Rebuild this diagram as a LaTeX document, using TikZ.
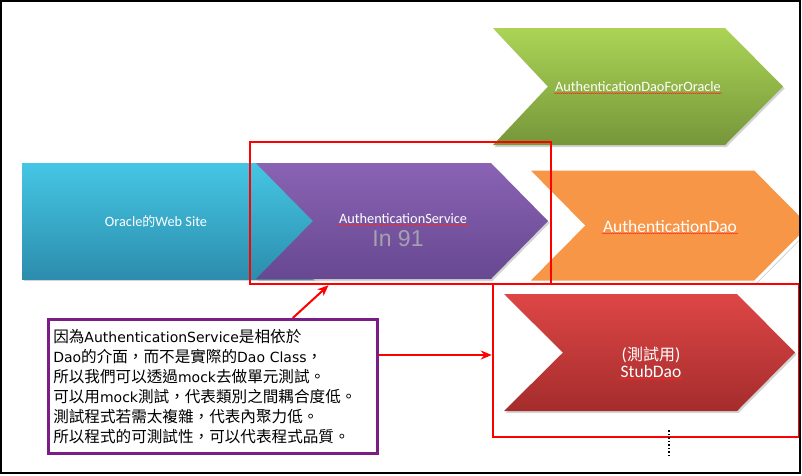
\documentclass[tikz,border=0pt]{standalone}
\usepackage{fontspec}
\setmainfont{Carlito}
\newfontfamily\cjkfont{Noto Sans CJK TC}
\newfontfamily\arialfont{Liberation Sans}
\newfontfamily\memofont{DejaVu Sans}
\newcommand{\zh}[1]{{\cjkfont\fontsize{15.6}{20}\selectfont #1}}
\usetikzlibrary{positioning, calc, arrows.meta, shadows, decorations.pathmorphing}

\definecolor{webtop}{HTML}{45C6E4}
\definecolor{webbot}{HTML}{2C8DAD}
\definecolor{svctop}{HTML}{8A63B4}
\definecolor{svcbot}{HTML}{674891}
\definecolor{daoorange}{HTML}{F79646}
\definecolor{oratop}{HTML}{ABD455}
\definecolor{orabot}{HTML}{76963A}
\definecolor{stubtop}{HTML}{DE4646}
\definecolor{stubbot}{HTML}{A52C2C}
\definecolor{notepurple}{HTML}{7A1E86}
\definecolor{stampgray}{HTML}{A4A2AE}

\begin{document}
\begin{tikzpicture}[
    x=1pt, y=-1pt,
    shape3d/.style={drop shadow={opacity=0.35, shadow xshift=1.5pt, shadow yshift=-2pt}},
    chevlabel/.style={text=white, font=\fontsize{14.3}{16}\selectfont, inner sep=1pt, align=center},
    biglabel/.style={text=white, font=\fontsize{17.5}{20}\selectfont, inner sep=1pt, align=center},
    spellmark/.style={draw=red!85, line width=0.45pt, decorate, decoration={snake, amplitude=0.45pt, segment length=2pt}},
    hilite/.style={draw=red, line width=2.5pt, rectangle, inner sep=0pt},
    redarrow/.style={draw=red, line width=2pt, -{Stealth[length=11pt, width=9pt]}},
    note/.style={draw=notepurple, line width=2.5pt, fill=white, rectangle, align=left,
        font=\memofont\fontsize{14}{20}\selectfont, inner xsep=5pt,
        drop shadow={opacity=0.45, shadow xshift=2pt, shadow yshift=-2pt}}
]
    \useasboundingbox (0,0) rectangle (802,475);

    % ================= CHEVRONS =================
    \begin{scope}
    \clip (0,0) rectangle (800,473);

    % Oracle web site (plain block)
    \path[shape3d, top color=webtop, bottom color=webbot] (22,163) rectangle (313,279);

    % AuthenticationService
    \path[shape3d, top color=svctop, bottom color=svcbot]
        (256,163) -- (491,163) -- (548,221) -- (491,279) -- (256,279) -- (313,221) -- cycle;

    % AuthenticationDao
    \path[shape3d, fill=daoorange, draw=white, line width=3pt, line join=miter]
        (527,169) -- (755,169) -- (811,225.5) -- (755,282) -- (527,282) -- (583,225.5) -- cycle;

    % AuthenticationDaoForOracle
    \path[shape3d, top color=oratop, bottom color=orabot]
        (493,28) -- (725,28) -- (783,86.5) -- (725,145) -- (493,145) -- (548,86.5) -- cycle;

    % StubDao
    \path[shape3d, top color=stubtop, bottom color=stubbot]
        (504,294) -- (737,294) -- (795,352.5) -- (737,411) -- (504,411) -- (563,352.5) -- cycle;
    \end{scope}

    % ================= LABELS =================
    \node[chevlabel] (weblbl) at (156,221) {Oracle{\cjkfont\fontsize{13}{16}\selectfont 的}Web Site};
    \node[chevlabel] (svclbl) at (403,219) {AuthenticationService};
    \node[text=stampgray, font=\arialfont\fontsize{23}{26}\selectfont, inner sep=1pt] (in91) at (398,239) {In 91};
    \node[biglabel] (daolbl) at (670,226) {AuthenticationDao};
    \node[chevlabel] (oralbl) at (638,87) {AuthenticationDaoForOracle};
    \node[biglabel] (stubtag) at (651,355) {({\cjkfont\fontsize{16}{20}\selectfont 測試用})};
    \node[biglabel, below=0pt of stubtag] (stublbl) {StubDao};

    \draw[spellmark] (svclbl.south west) -- (svclbl.south east);
    \draw[spellmark] (daolbl.south west) -- (daolbl.south east);
    \draw[spellmark] (oralbl.south west) -- (oralbl.south east);
    \draw[spellmark] (stublbl.south west) -- (stublbl.south east);

    % ================= HIGHLIGHT FRAMES =================
    \node[hilite, minimum width=301pt, minimum height=142pt] (svcframe) at (400.5,213) {};
    \node[hilite, minimum width=306pt, minimum height=153pt] (stubframe) at (646,360.5) {};

    % ================= NOTE =================
    \node[note, anchor=north west, minimum width=329pt, minimum height=134pt, text width=319pt] (memo) at (47,318) {%
        \zh{因為}AuthenticationService\zh{是相依於}\\
        Dao\zh{的介面，而不是實際的}Dao Class\zh{，}\\
        \zh{所以我們可以透過}mock\zh{去做單元測試。}\\
        \zh{可以用}mock\zh{測試，代表類別之間耦合度低。}\\
        \zh{測試程式若需太複雜，代表內聚力低。}\\
        \zh{所以程式的可測試性，可以代表程式品質。}};

    % ================= ARROWS =================
    \draw[redarrow] ([xshift=80pt]memo.north) -- ([xshift=-72pt]svcframe.south);
    \draw[redarrow] (memo.east |- stubtag) -- (stubframe.west |- stubtag);

    % more steps below
    \coordinate (moreA) at (669,430);
    \coordinate (moreB) at (669,456);
    \draw[line width=1.5pt, dotted] (moreA) -- (moreB);

    % ================= FRAME =================
    \draw[line width=2pt] (1,1) rectangle (800,473);
\end{tikzpicture}
\end{document}
